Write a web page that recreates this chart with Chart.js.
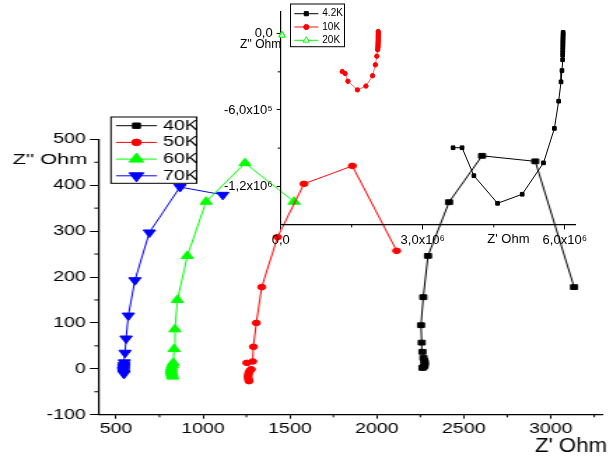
<!DOCTYPE html>
<html><head><meta charset="utf-8">
<script src="https://cdn.jsdelivr.net/npm/chart.js@4.4.1/dist/chart.umd.min.js"></script>
<style>
html,body{margin:0;padding:0;background:#fff;overflow:hidden}
#wrap{position:relative;width:613px;height:461px}
#mainBox{position:absolute;left:0;top:0;width:438px;height:461px;transform:scaleX(1.399543);transform-origin:0 0}
#insetBox{position:absolute;left:0;top:0;width:613px;height:461px;pointer-events:none}
canvas{display:block}
</style></head><body>
<div id="wrap">
<div id="mainBox"><canvas id="main" width="438" height="461"></canvas></div>
<div id="insetBox"><canvas id="inset" width="613" height="461"></canvas></div>
</div>
<script>
// ---------- main chart data (Z' and Z'' in Ohm) ----------
const k40Re = [2262,2266,2271,2275,2276,2273,2268,2262,2258,2254,2267,2294,2415,2605,2911,3134];
const k40Im = [2,3,5,8,13,18,24,37,57,95,156,246,363,464,452,178];
const k50Re = [1265,1262,1260,1261,1264,1270,1278,1252,1286,1290,1307,1338,1429,1581,1859,2114];
const k50Im = [-27,-23,-18,-13,-8,-4,-1,13,16,48,100,178,287,403,442,257];
const k60Re = [826,823,820,818,818,820,824,829,834,839,853,910,1018,1242,1524];
const k60Im = [-17,-13,-9,-5,-1,3,8,13,43,86,150,246,364,448,364];
const k70Re = [546,544,543,543,544,545,546,548,552,558,571,609,692,868,1114];
const k70Im = [-11,-8,-5,-2,1,4,8,14,35,66,116,193,297,396,379];

// ---------- inset data ----------
const k4Re = [5.965e6,5.965e6,5.963e6,5.962e6,5.961e6,5.96e6,5.96e6,5.959e6,5.958e6,5.957e6,5.956e6,5.955e6,5.953e6,5.94e6,5.92e6,5.87e6,5.78e6,5.55e6,5.10e6,4.58e6,4.08e6,3.83e6,3.64e6];
const k4Im = [1e4,-5e3,-2e4,-3.5e4,-5e4,-6.5e4,-8e4,-9.5e4,-1.1e5,-1.3e5,-1.5e5,-1.7e5,-2.05e5,-2.9e5,-3.79e5,-5.31e5,-7.45e5,-1.016e6,-1.263e6,-1.334e6,-1.117e6,-8.97e5,-8.97e5];
const k10Re = [2.06e6,2.062e6,2.061e6,2.06e6,2.059e6,2.06e6,2.058e6,2.057e6,2.056e6,2.055e6,2.052e6,2.048e6,2.03e6,2.00e6,1.94e6,1.80e6,1.62e6,1.42e6,1.36e6,1.30e6];
const k10Im = [1.7e4,5e3,-8e3,-2.1e4,-3.4e4,-4.7e4,-6e4,-7.3e4,-8.6e4,-9.9e4,-1.12e5,-1.27e5,-1.77e5,-2.45e5,-3.31e5,-4.12e5,-4.42e5,-3.74e5,-3.13e5,-2.98e5];
const k20Re = [2.5e4,2.7e4,3.0e4];
const k20Im = [-8e3,-1.1e4,-1.3e4];

// ---------- ticks ----------
const mainXTicks = [500,1000,1500,2000,2500,3000];
const mainXMinor = [750,1250,1750,2250,2750,3250];
const mainYTicks = [-100,0,100,200,300,400,500];
const mainYMinor = [-50,50,150,250,350,450];
const insetXTicks = [0,3e6,6e6];
const insetXLabels = ['0,0','3,0x10\u2076','6,0x10\u2076'];
const insetXMinor = [1.5e6,4.5e6];
const insetYTicks = [0,-6e5,-1.2e6];
const insetYLabels = ['0,0','-6,0x10\u2075','-1,2x10\u2076'];
const insetYMinor = [-3e5,-9e5];

const FONT = "'Liberation Sans', Arial, sans-serif";
const K = 613/438;

function pts(xs, ys){ return xs.map((x,i)=>({x:x, y:ys[i]})); }

function mark(ctx, style, x, y, r, rot, fill, stroke){
  ctx.save();
  ctx.beginPath();
  ctx.lineWidth = 1;
  ctx.fillStyle = fill; ctx.strokeStyle = stroke;
  if (style === 'circle') { ctx.arc(x, y, r, 0, Math.PI*2); }
  else if (style === 'rect') { const s = r*Math.SQRT1_2; ctx.rect(x-s, y-s, 2*s, 2*s); }
  else if (style === 'triangle') {
    let a = rot*Math.PI/180;
    ctx.moveTo(x+Math.sin(a)*r, y-Math.cos(a)*r);
    a += 2*Math.PI/3; ctx.lineTo(x+Math.sin(a)*r, y-Math.cos(a)*r);
    a += 2*Math.PI/3; ctx.lineTo(x+Math.sin(a)*r, y-Math.cos(a)*r);
    ctx.closePath();
  }
  ctx.fill(); ctx.stroke();
  ctx.restore();
}
function txt(ctx, s, x, y, size, align, sx){
  ctx.save();
  ctx.translate(x, y); ctx.scale(sx, 1);
  ctx.font = size + 'px ' + FONT;
  ctx.textAlign = align; ctx.textBaseline = 'middle'; ctx.fillStyle = '#000';
  ctx.fillText(s, 0, 0);
  ctx.restore();
}
function minor(ctx, scale, vals, len, horiz){
  ctx.save(); ctx.strokeStyle = '#000'; ctx.lineWidth = 1;
  vals.forEach(v=>{
    const p = scale.getPixelForValue(v);
    ctx.beginPath();
    if (horiz) { ctx.moveTo(p, scale.top); ctx.lineTo(p, scale.top+len); }
    else { ctx.moveTo(scale.right, p); ctx.lineTo(scale.right-len, p); }
    ctx.stroke();
  });
  ctx.restore();
}
function legend(ctx, box, rows, x0, x1, xm, xt, y0, dy, size, sx){
  ctx.save(); ctx.strokeStyle = '#000'; ctx.lineWidth = 1;
  ctx.strokeRect(box[0], box[1], box[2], box[3]);
  rows.forEach((s,i)=>{
    const y = y0 + i*dy;
    ctx.beginPath(); ctx.strokeStyle = s.line; ctx.lineWidth = s.lw || 1;
    ctx.moveTo(x0, y); ctx.lineTo(x1, y); ctx.stroke();
    mark(ctx, s.style, xm, y, s.lr, s.rot, s.fill, s.color);
    txt(ctx, s.label, xt, y, size, 'left', sx);
  });
  ctx.restore();
}

const mainSeries = [
  {label:'40K', xs:k40Re, ys:k40Im, color:'#000000', fill:'#000000', line:'#000000', style:'rect', r:3.4, lr:3.8, rot:0},
  {label:'50K', xs:k50Re, ys:k50Im, color:'#ff0000', fill:'#ff0000', line:'#ff0000', style:'circle', r:2.8, lr:3.3, rot:0},
  {label:'60K', xs:k60Re, ys:k60Im, color:'#00ff00', fill:'#00ff00', line:'#00ff00', style:'triangle', r:5, lr:6, rot:0},
  {label:'70K', xs:k70Re, ys:k70Im, color:'#0000ff', fill:'#0000ff', line:'#0000ff', style:'triangle', r:5, lr:6, rot:180}
];
const insetSeries = [
  {label:'4.2K', xs:k4Re, ys:k4Im, color:'#000000', fill:'#000000', line:'#000000', style:'rect', r:2.6, lr:2.9, rot:0, clip:true},
  {label:'10K', xs:k10Re, ys:k10Im, color:'#ff0000', fill:'#ff0000', line:'#ff6a6a', lw:1.6, style:'circle', r:2.2, lr:2.6, rot:0, clip:true},
  {label:'20K', xs:k20Re, ys:k20Im, color:'#00ff00', fill:'#ffffff', line:'#00ff00', style:'triangle', r:3.6, lr:3.6, rot:0, clip:false}
];

function datasets(list){
  return list.map(s=>({
    label:s.label, data:pts(s.xs, s.ys), showLine:true, borderColor:s.line, borderWidth:1,
    backgroundColor:s.fill, pointStyle:s.style, pointRadius:s.r, pointRotation:s.rot,
    pointBackgroundColor:s.fill, pointBorderColor:s.color, pointBorderWidth:1, tension:0,
    clip: s.clip === false ? false : undefined
  }));
}

function axis(min, max, ticks, labels, fitFn, tickLen, fontSize, pad){
  return {
    type:'linear', min:min, max:max, offset:false,
    afterBuildTicks: s=>{ s.ticks = ticks.map(v=>({value:v})); },
    afterFit: fitFn,
    grid:{display:true, drawOnChartArea:false, drawTicks:true, tickLength:tickLen, color:'#000', tickColor:'#000', lineWidth:1},
    border:{display:true, color:'#000', width:1.2},
    ticks:{color:'#000', font:{family:FONT, size:fontSize}, padding:pad, maxRotation:0, autoSkip:false,
      callback: v=>{ const i = ticks.indexOf(v); return labels ? labels[i] : String(v); }}
  };
}

const mainDecor = {
  id:'mainDecor',
  afterDraw(chart){
    const ctx = chart.ctx, sx = chart.scales.x, sy = chart.scales.y;
    minor(ctx, sx, mainXMinor, 2.6, true);
    minor(ctx, sy, mainYMinor, 3.1, false);
    legend(ctx, [79.3,117,61.2,66.3], mainSeries, 82.9, 112.2, 97.5, 116.5, 125.7, 16.7, 14, 1);
    txt(ctx, "Z'' Ohm", 9.1, 159.5, 15.5, 'left', 1);
    txt(ctx, "Z' Ohm", 433.7, 446.7, 21, 'right', 1.056/K);
  }
};
const insetDecor = {
  id:'insetDecor',
  afterDraw(chart){
    const ctx = chart.ctx, sx = chart.scales.x, sy = chart.scales.y;
    minor(ctx, sx, insetXMinor, 3, true);
    minor(ctx, sy, insetYMinor, 3, false);
    legend(ctx, [290.5,4,54,42.7], insetSeries, 294.3, 318.3, 306.3, 322.3, 13.7, 13.3, 10, 1);
    txt(ctx, "Z'' Ohm", 240, 45, 12, 'left', 1);
    txt(ctx, "Z' Ohm", 487.3, 239.5, 13, 'left', 1);
  }
};

new Chart(document.getElementById('main'), {
  type:'scatter',
  data:{datasets:datasets(mainSeries)},
  options:{
    responsive:false, animation:false, events:[],
    layout:{padding:{left:0, top:139.3, right:7.2, bottom:0}},
    plugins:{legend:{display:false}, tooltip:{enabled:false}},
    scales:{
      x: axis(400, 3300, mainXTicks, null, s=>{ s.height = 46.3; }, 4, 14, 2),
      y: axis(-100, 500, mainYTicks, null, s=>{ s.width = 70.45; }, 6.2, 14, 3)
    }
  },
  plugins:[mainDecor]
});

new Chart(document.getElementById('inset'), {
  type:'scatter',
  data:{datasets:datasets(insetSeries)},
  options:{
    responsive:false, animation:false, events:[],
    layout:{padding:{left:0, top:4, right:37.3, bottom:0}},
    plugins:{legend:{display:false}, tooltip:{enabled:false}},
    scales:{
      x: axis(0, 6.23e6, insetXTicks, insetXLabels, s=>{ s.height = 236.6; }, 5, 13, 3),
      y: axis(-1.5e6, 1.72e5, insetYTicks, insetYLabels, s=>{ s.width = 280.7; }, 4, 13, 4)
    }
  },
  plugins:[insetDecor]
});
</script>
</body></html>
